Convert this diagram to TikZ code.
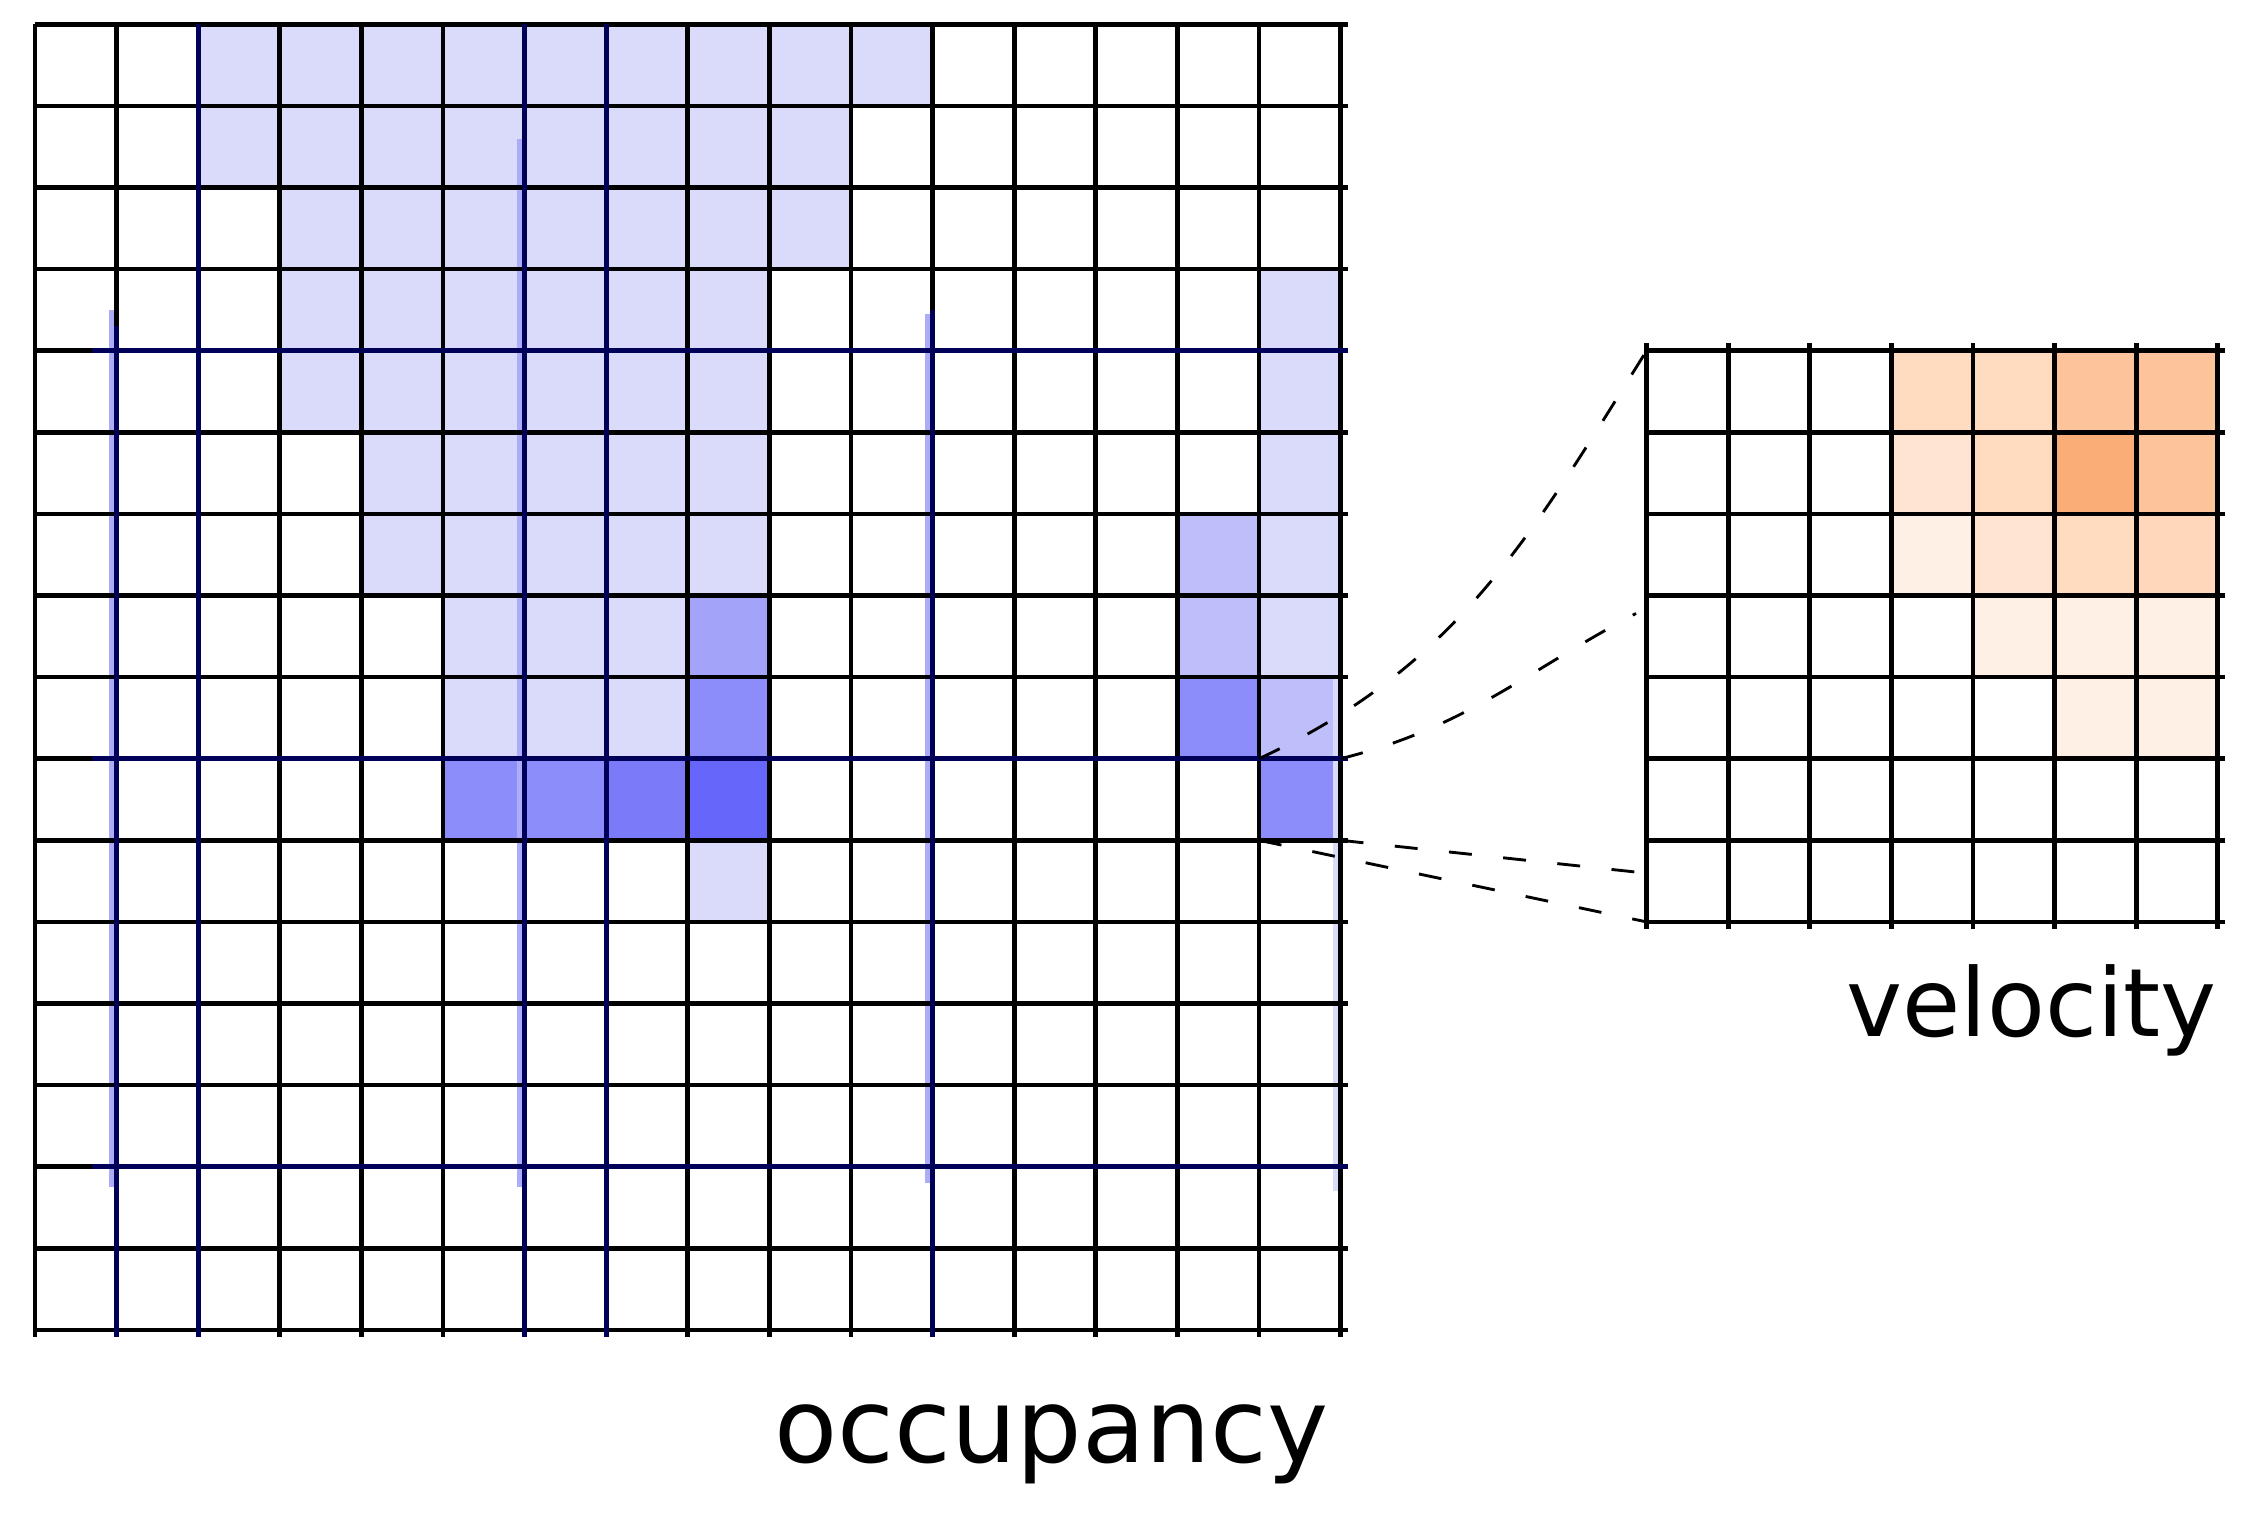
\documentclass[tikz,border=0pt]{standalone}
\usepackage{fontspec}
\newfontfamily\labfont{DejaVu Sans}
\definecolor{lavA}{HTML}{DADAFA}
\definecolor{lavB}{HTML}{BEBEFA}
\definecolor{lavC}{HTML}{A3A3FA}
\definecolor{lavD}{HTML}{8C8CFA}
\definecolor{lavE}{HTML}{7B7BFA}
\definecolor{lavF}{HTML}{6666FA}
\definecolor{halo}{HTML}{ACACF8}
\definecolor{roadnavy}{HTML}{000058}
\definecolor{orA}{HTML}{FFDBC0}
\definecolor{orB}{HTML}{FDC49C}
\definecolor{orC}{HTML}{FFE4D2}
\definecolor{orD}{HTML}{FBAD77}
\definecolor{orE}{HTML}{FFF0E6}
\definecolor{orF}{HTML}{FFD7BA}
\tikzset{
  gridline/.style={line width=1.65pt, black},
  navyline/.style={line width=1.65pt, roadnavy},
  link/.style={line width=1pt, black, dash pattern=on 8pt off 11pt},
  lab/.style={inner sep=0pt, font=\labfont},
}
\begin{document}
\begin{tikzpicture}[x=1cm,y=1cm]
\useasboundingbox[fill=white] (-0.4289,0.2978) rectangle (27.2549,-18.2439);
% ---- occupancy fills
\foreach \r/\a/\b in {0/2/10, 1/2/9, 2/3/9, 3/3/8, 4/3/8, 5/4/8, 6/4/8, 7/5/7, 8/5/7} {
  \foreach \c in {\a,...,\b} \fill[lavA] (\c,-\r) rectangle ++(1,-1);
}
\foreach \r in {3,...,7} \fill[lavA] (15,-\r) rectangle ++(1,-1);
\fill[lavA] (8,-10) rectangle ++(1,-1);
\fill[lavB] (14,-6) rectangle ++(1,-1);
\fill[lavB] (14,-7) rectangle ++(1,-1);
\fill[lavB] (15,-8) rectangle ++(1,-1);
\fill[lavC] (8,-7) rectangle ++(1,-1);
\fill[lavD] (8,-8) rectangle ++(1,-1);
\fill[lavD] (14,-8) rectangle ++(1,-1);
\fill[lavD] (15,-9) rectangle ++(1,-1);
\fill[lavD] (5,-9) rectangle ++(1,-1);
\fill[lavD] (6,-9) rectangle ++(1,-1);
\fill[lavE] (7,-9) rectangle ++(1,-1);
\fill[lavF] (8,-9) rectangle ++(1,-1);
% ---- halos
\fill[halo] (0.91,-3.5) rectangle (1,-14.25);
\fill[halo] (5.91,-1.4) rectangle (6,-14.25);
\fill[halo] (10.91,-3.55) rectangle (11,-14.2);
\fill[lavA] (15.91,-3.65) rectangle (16,-14.3);
% ---- velocity fills
\begin{scope}[shift={(19.75,-4)}]
\fill[orA] (3,0) rectangle ++(1,-1);
\fill[orA] (4,0) rectangle ++(1,-1);
\fill[orB] (5,0) rectangle ++(1,-1);
\fill[orB] (6,0) rectangle ++(1,-1);
\fill[orC] (3,-1) rectangle ++(1,-1);
\fill[orA] (4,-1) rectangle ++(1,-1);
\fill[orD] (5,-1) rectangle ++(1,-1);
\fill[orB] (6,-1) rectangle ++(1,-1);
\fill[orE] (3,-2) rectangle ++(1,-1);
\fill[orC] (4,-2) rectangle ++(1,-1);
\fill[orA] (5,-2) rectangle ++(1,-1);
\fill[orF] (6,-2) rectangle ++(1,-1);
\fill[orE] (4,-3) rectangle ++(1,-1);
\fill[orE] (5,-3) rectangle ++(1,-1);
\fill[orE] (6,-3) rectangle ++(1,-1);
\fill[orE] (5,-4) rectangle ++(1,-1);
\fill[orE] (6,-4) rectangle ++(1,-1);
\end{scope}
% ---- occupancy grid
\foreach \i in {0,...,16} \draw[gridline] (\i,0) -- (\i,-16.09);
\foreach \j in {0,...,16} \draw[gridline] (0,-\j) -- (16.09,-\j);
% ---- navy lines
\draw[navyline] (1,-3.7) -- (1,-16.09);
\foreach \i in {2,6,7} \draw[navyline] (\i,0) -- (\i,-16.09);
\draw[navyline] (11,-3.5) -- (11,-16.09);
\foreach \j in {4,9,14} \draw[navyline] (0.7,-\j) -- (16.09,-\j);
% ---- velocity grid
\foreach \i in {0,...,7} \draw[gridline] (19.75+\i,-3.91) -- (19.75+\i,-11.09);
\foreach \j in {4,...,11} \draw[gridline] (19.75,-\j) -- (26.84,-\j);
% ---- connectors
\coordinate (oTL) at (15,-9);
\coordinate (oTR) at (16,-9);
\coordinate (oBL) at (15,-10);
\coordinate (oBR) at (16,-10);
\coordinate (vTop) at (19.75,-4);
\coordinate (vMid) at (19.62,-7.22);
\coordinate (vLow) at (19.72,-10.4);
\coordinate (vBot) at (19.75,-11);
\draw[link] (oTL) to[out=25,in=238] (vTop);
\draw[link] (oTR) to[out=14,in=208] (vMid);
\draw[link] (oBR) -- (vLow);
\draw[link] (oBL) -- (vBot);
% ---- labels
\node[lab, anchor=base east, font=\labfont\fontsize{36}{42}\selectfont] (occlabel) at (15.86,-17.63) {occupancy};
\node[lab, anchor=base east, font=\labfont\fontsize{33}{40}\selectfont] (vellabel) at (26.74,-12.41) {velocity};
\end{tikzpicture}
\end{document}
